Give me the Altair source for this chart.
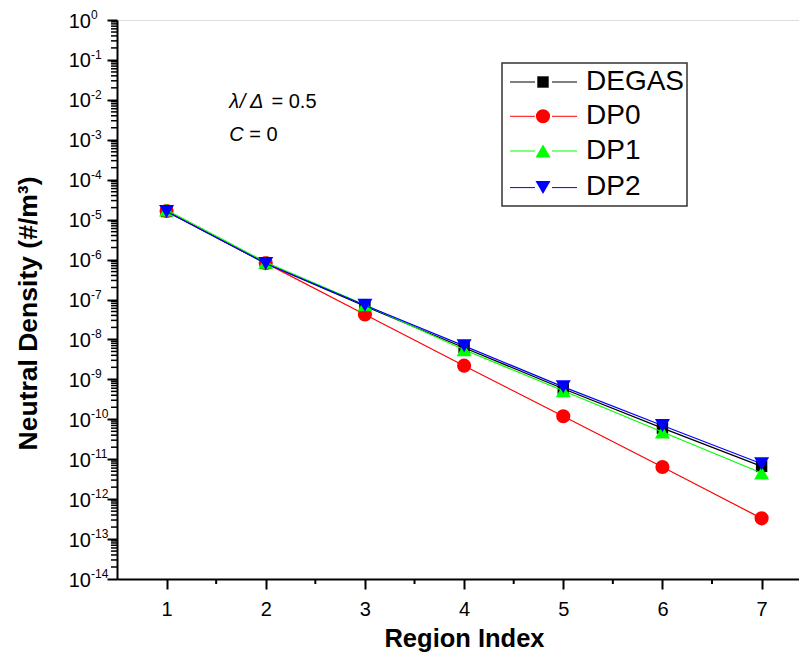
import altair as alt
import pandas as pd

# ---------------- data ----------------
regions = [1, 2, 3, 4, 5, 6, 7]
degas = [1.6e-5, 8.0e-7, 6.8e-8, 6.2e-9, 5.8e-10, 6.0e-11, 6.6e-12]
dp0 = [1.65e-5, 8.15e-7, 4.2e-8, 2.2e-9, 1.19e-10, 6.4e-12, 3.3e-13]
dp1 = [1.75e-5, 8.6e-7, 7.4e-8, 5.5e-9, 5.2e-10, 4.8e-11, 4.5e-12]
dp2 = [1.6e-5, 8.0e-7, 7.2e-8, 6.9e-9, 6.5e-10, 7.0e-11, 7.7e-12]

series_names = ["DEGAS", "DP0", "DP1", "DP2"]
series_values = [degas, dp0, dp1, dp2]
colors = ["#000000", "#ff0000", "#00ff00", "#0000ff"]
shapes = ["square", "circle", "triangle-up", "triangle-down"]
sizes = [130, 200, 225, 225]

x_major = [1, 2, 3, 4, 5, 6, 7]
x_minor = [1.5, 2.5, 3.5, 4.5, 5.5, 6.5]
y_exponents = list(range(0, -15, -1))
y_major = [10.0 ** e for e in y_exponents]
y_minor = [m * 10.0 ** e for e in range(-14, 0) for m in range(2, 10)]

FONT = "Liberation Sans"
W, H = 682, 559

xscale = alt.Scale(domain=[0.5, 7.377], nice=False, zero=False)
yscale = alt.Scale(type="log", domain=[1e-14, 1], nice=False)

x_axis = alt.Axis(values=x_major, format="d", tickSize=10, tickWidth=2, domainWidth=2,
                  domainColor="black", tickColor="black", grid=False,
                  labelFontSize=20, labelFont=FONT, labelColor="black",
                  labelPadding=10, labelBaseline="top",
                  title="Region Index", titleFontSize=25.5, titleFont=FONT,
                  titleFontWeight="bold", titleColor="black",
                  titleBaseline="alphabetic", titleY=67, titleX=347)
y_axis = alt.Axis(values=y_major, tickSize=10, tickWidth=2, domainWidth=2,
                  domainColor="black", tickColor="black", grid=False,
                  labels=False,
                  title="Neutral Density (#/m³)", titleFontSize=26.5,
                  titleFont=FONT, titleFontWeight="bold", titleColor="black",
                  titleAngle=-90, titleBaseline="alphabetic",
                  titleAlign="center", titleX=-81, titleY=293)

one = pd.DataFrame({"k": [0]})

layers = []

# axes carrier (invisible)
base_df = pd.DataFrame({"x": x_major, "y": [1e-5] * 7})
layers.append(
    alt.Chart(base_df).mark_point(opacity=0).encode(
        x=alt.X("x:Q", scale=xscale, axis=x_axis),
        y=alt.Y("y:Q", scale=yscale, axis=y_axis),
    )
)

# minor ticks
layers.append(
    alt.Chart(pd.DataFrame({"v": y_minor})).mark_rule(color="black", strokeWidth=1.5).encode(
        y=alt.Y("v:Q", scale=yscale), x=alt.value(0), x2=alt.value(-6)
    )
)
layers.append(
    alt.Chart(pd.DataFrame({"v": x_minor})).mark_rule(color="black", strokeWidth=2).encode(
        x=alt.X("v:Q", scale=xscale), y=alt.value(H), y2=alt.value(H + 5)
    )
)

# y tick labels 10^n
ylab_df = pd.DataFrame({"v": y_major, "base": ["10"] * len(y_major),
                        "exp": [str(e) for e in y_exponents]})
layers.append(
    alt.Chart(ylab_df).mark_text(align="right", baseline="alphabetic", fontSize=20,
                                 font=FONT, color="black", dy=7.5).encode(
        y=alt.Y("v:Q", scale=yscale), x=alt.value(-26), text="base:N"
    )
)
layers.append(
    alt.Chart(ylab_df).mark_text(align="left", baseline="alphabetic", fontSize=12,
                                 font=FONT, color="black", dy=-1).encode(
        y=alt.Y("v:Q", scale=yscale), x=alt.value(-26), text="exp:N"
    )
)

# data series
for name, vals, col, shp, sz in zip(series_names, series_values, colors, shapes, sizes):
    d = pd.DataFrame({"region": regions, "value": vals})
    layers.append(
        alt.Chart(d).mark_line(color=col, strokeWidth=1.2).encode(
            x=alt.X("region:Q", scale=xscale), y=alt.Y("value:Q", scale=yscale)
        )
    )
    layers.append(
        alt.Chart(d).mark_point(shape=shp, filled=True, color=col, size=sz, opacity=1).encode(
            x=alt.X("region:Q", scale=xscale), y=alt.Y("value:Q", scale=yscale)
        )
    )

# legend (manual)
layers.append(
    alt.Chart(one).mark_rect(fill="white", fillOpacity=0, stroke="#333333", strokeWidth=1.5).encode(
        x=alt.value(385), x2=alt.value(570), y=alt.value(43), y2=alt.value(186)
    )
)
legend_y = [62.0, 96.3, 131.0, 167.6]
for name, col, shp, sz, ly in zip(series_names, colors, shapes, sizes, legend_y):
    layers.append(alt.Chart(one).mark_rule(color=col, strokeWidth=1).encode(
        x=alt.value(393), x2=alt.value(418), y=alt.value(ly)))
    layers.append(alt.Chart(one).mark_rule(color=col, strokeWidth=1).encode(
        x=alt.value(435), x2=alt.value(460), y=alt.value(ly)))
    layers.append(alt.Chart(one).mark_point(shape=shp, filled=True, color=col, size=sz, opacity=1).encode(
        x=alt.value(426), y=alt.value(ly)))
    layers.append(alt.Chart(one).mark_text(text=name, align="left", baseline="alphabetic",
                                           fontSize=28, font=FONT, color="black").encode(
        x=alt.value(469), y=alt.value(ly + 7.6)))

# annotation
ann_italic = [("λ", 112.3), ("/", 122.8), ("Δ", 133.0)]
for txt, xx in ann_italic:
    layers.append(alt.Chart(one).mark_text(text=txt, align="left", baseline="alphabetic",
                                           fontSize=20, font=FONT, fontStyle="italic", color="black").encode(
        x=alt.value(xx), y=alt.value(87.5)))
layers.append(alt.Chart(one).mark_text(text="= 0.5", align="left", baseline="alphabetic",
                                       fontSize=20, font=FONT, color="black").encode(
    x=alt.value(154.5), y=alt.value(87.5)))
layers.append(alt.Chart(one).mark_text(text="C", align="left", baseline="alphabetic",
                                       fontSize=20, font=FONT, fontStyle="italic", color="black").encode(
    x=alt.value(112.3), y=alt.value(120.7)))
layers.append(alt.Chart(one).mark_text(text="= 0", align="left", baseline="alphabetic",
                                       fontSize=20, font=FONT, color="black").encode(
    x=alt.value(132.3), y=alt.value(120.7)))

chart = alt.layer(*layers).properties(
    width=W, height=H,
    autosize=alt.AutoSizeParams(type="none"),
    padding={"left": 109, "top": 12, "right": 0, "bottom": 76},
).configure_view(stroke=None).configure(background="white")

chart.save("out.html", embed_options={"renderer": "svg", "actions": False})
